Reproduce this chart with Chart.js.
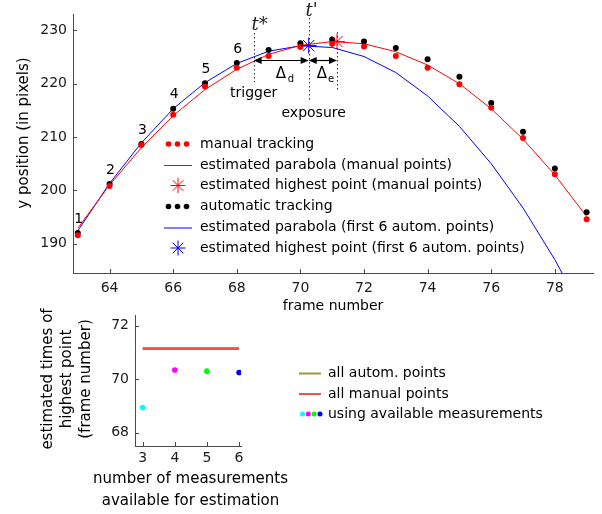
<!DOCTYPE html>
<html>
<head>
<meta charset="utf-8">
<script src="https://cdn.jsdelivr.net/npm/chart.js@4.4.1/dist/chart.umd.min.js"></script>
<style>
  body { margin: 0; background: #fff; }
  #wrap { position: relative; width: 602px; height: 514px; }
  canvas { position: absolute; left: 0; }
</style>
</head>
<body>
<div id="wrap">
  <canvas id="top" width="602" height="320" style="top:0"></canvas>
  <canvas id="bottom" width="602" height="214" style="top:300px"></canvas>
</div>
<script>
// ---- data ----
const frames     = [63, 64, 65, 66, 67, 68, 69, 70, 71, 72, 73, 74, 75, 76, 77, 78, 79];
const manualY    = [191.6, 200.8, 208.5, 214.2, 219.5, 223.0, 225.2, 226.9, 227.5, 227.0, 225.2, 223.0, 219.9, 215.5, 209.8, 203.0, 194.6];
const autoY      = [192.0, 201.2, 208.7, 215.3, 220.1, 223.9, 226.3, 227.6, 228.3, 227.9, 226.7, 224.6, 221.3, 216.4, 211.0, 204.1, 195.9];
const manualFit  = [192.9, 201.0, 208.0, 214.0, 218.9, 222.7, 225.5, 227.2, 227.9, 227.5, 226.0, 223.5, 220.0, 215.3, 209.6, 202.9, 195.1];
const autoFit    = [192.4, 201.3, 208.9, 215.3, 220.2, 223.8, 226.1, 227.1, 226.8, 225.1, 222.1, 217.7, 212.0, 205.0, 196.7, 187.0, 176.0];
const manualPeak = [71.15, 227.9];
const autoPeak   = [70.26, 227.15];
const triggerAt  = 68.53;
const xTicksTop  = [64, 66, 68, 70, 72, 74, 76, 78];
const yTicksTop  = [190, 200, 210, 220, 230];

const nMeas      = [3, 4, 5, 6];
const estTimes   = [68.94, 70.34, 70.30, 70.25];
const estColors  = ['#00ffff', '#ff00ff', '#00ff00', '#0000ff'];
const allAutoT   = 71.17;
const allManualT = 71.13;
const xTicksBot  = [3, 4, 5, 6];
const yTicksBot  = [68, 70, 72];

const topLegend = [
  'manual tracking',
  'estimated parabola (manual points)',
  'estimated highest point (manual points)',
  'automatic tracking',
  'estimated parabola (first 6 autom. points)',
  'estimated highest point (first 6 autom. points)'
];
const botLegend = ['all autom. points', 'all manual points', 'using available measurements'];

const FONT = '"DejaVu Sans", sans-serif';
const RED = '#ff0000', BLUE = '#0000ff', BLACK = '#000000';
const AXIS = '#4a4a4a';
const OLIVE = '#9a9a3a', LIGHTRED = '#f05050';

const pts = (xs, ys) => xs.map((x, i) => ({x: x, y: ys[i]}));

function axisStyle(ticks, pad) {
  return {
    border: {color: AXIS, width: 1},
    grid: {drawOnChartArea: false, drawTicks: false},
    ticks: {font: {family: FONT, size: 14}, color: '#1a1a1a', padding: pad, autoSkip: false, maxRotation: 0},
    afterBuildTicks: s => { s.ticks = ticks.map(v => ({value: v})); }
  };
}

// tick marks pointing into the plot area
const inwardTicks = {
  id: 'inwardTicks',
  afterDraw(chart) {
    const ctx = chart.ctx, a = chart.chartArea, xs = chart.scales.x, ys = chart.scales.y;
    ctx.save();
    ctx.strokeStyle = AXIS; ctx.lineWidth = 1;
    ctx.beginPath();
    xs.ticks.forEach(t => {
      const p = Math.round(xs.getPixelForValue(t.value)) + 0.5;
      ctx.moveTo(p, a.bottom); ctx.lineTo(p, a.bottom - 4);
    });
    ys.ticks.forEach(t => {
      const p = Math.round(ys.getPixelForValue(t.value)) + 0.5;
      ctx.moveTo(a.left, p); ctx.lineTo(a.left + 4, p);
    });
    ctx.stroke();
    ctx.restore();
  }
};

function dots(ctx, xs, y, colors, r) {
  xs.forEach((x, i) => {
    ctx.fillStyle = colors[i];
    ctx.beginPath(); ctx.arc(x, y, r, 0, Math.PI * 2); ctx.fill();
  });
}

function star(ctx, x, y, r, color) {
  ctx.strokeStyle = color; ctx.lineWidth = 1;
  ctx.beginPath();
  for (let k = 0; k < 4; k++) {
    const a = k * Math.PI / 4;
    ctx.moveTo(x - r * Math.cos(a), y - r * Math.sin(a));
    ctx.lineTo(x + r * Math.cos(a), y + r * Math.sin(a));
  }
  ctx.stroke();
}

function hline(ctx, x1, x2, y, color, w) {
  ctx.strokeStyle = color; ctx.lineWidth = w;
  ctx.beginPath(); ctx.moveTo(x1, y); ctx.lineTo(x2, y); ctx.stroke();
}

function arrow(ctx, x1, x2, y) {
  ctx.fillStyle = BLACK;
  hline(ctx, x1 + 4, x2 - 4, y, BLACK, 1.2);
  [[x1, 1], [x2, -1]].forEach(([x, d]) => {
    ctx.beginPath();
    ctx.moveTo(x, y); ctx.lineTo(x + d * 8, y - 3.5); ctx.lineTo(x + d * 8, y + 3.5);
    ctx.closePath(); ctx.fill();
  });
}

function dotted(ctx, x, y1, y2) {
  ctx.save();
  ctx.strokeStyle = '#333'; ctx.lineWidth = 1; ctx.setLineDash([1.5, 2.5]);
  ctx.beginPath(); ctx.moveTo(x + 0.5, y1); ctx.lineTo(x + 0.5, y2); ctx.stroke();
  ctx.restore();
}

const topAnnot = {
  id: 'topAnnot',
  afterDraw(chart) {
    const ctx = chart.ctx, xs = chart.scales.x, ys = chart.scales.y;
    ctx.save();
    ctx.textAlign = 'center'; ctx.textBaseline = 'middle';
    ctx.fillStyle = BLACK;
    ctx.font = '14px ' + FONT;
    // numbers above first 6 automatic points
    for (let i = 0; i < 6; i++) {
      ctx.fillText(String(i + 1), xs.getPixelForValue(frames[i]) + 1, ys.getPixelForValue(autoY[i]) - 14);
    }
    const xT = xs.getPixelForValue(triggerAt);
    const xE = xs.getPixelForValue(autoPeak[0]);
    const xM = xs.getPixelForValue(manualPeak[0]);
    dotted(ctx, Math.round(xT), 33, 82);
    dotted(ctx, Math.round(xE), 18, 101);
    dotted(ctx, Math.round(xM), 32, 90);
    arrow(ctx, xT, xE, 60.5);
    arrow(ctx, xE, xM, 60.5);
    ctx.fillStyle = BLACK;
    ctx.fillText('trigger', xT, 93);
    ctx.fillText('exposure', xE + 5, 113);
    ctx.font = 'italic 18px "DejaVu Serif", serif';
    ctx.fillStyle = '#222';
    ctx.fillText('t*', xT + 6, 25);
    ctx.fillText("t'", xE + 3, 11);
    ctx.fillStyle = BLACK;
    ctx.font = '15px ' + FONT;
    ctx.fillText('\u0394', 281, 74);
    ctx.fillText('\u0394', 322, 74);
    ctx.font = '10px ' + FONT;
    ctx.fillText('d', 291, 79);
    ctx.fillText('e', 331, 79);
    // axis titles
    ctx.font = '14px ' + FONT;
    ctx.fillText('frame number', (chart.chartArea.left + chart.chartArea.right) / 2, 306.5);
    ctx.save();
    ctx.translate(24, 133); ctx.rotate(-Math.PI / 2);
    ctx.font = '15px ' + FONT;
    ctx.fillText('y position (in pixels)', 0, 0);
    ctx.restore();
    // legend
    const rows = [144, 165, 185.5, 206.5, 227.5, 248];
    ctx.textAlign = 'left';
    ctx.font = '14px ' + FONT;
    ctx.fillStyle = BLACK;
    topLegend.forEach((t, i) => ctx.fillText(t, 200, rows[i]));
    dots(ctx, [168.5, 177.5, 186.5], rows[0], [RED, RED, RED], 2.8);
    hline(ctx, 164, 192, rows[1] + 0.5, RED, 1);
    star(ctx, 178, rows[2], 7.5, RED);
    dots(ctx, [168.5, 177.5, 186.5], rows[3], [BLACK, BLACK, BLACK], 2.8);
    hline(ctx, 164, 192, rows[4] + 0.5, BLUE, 1);
    star(ctx, 178, rows[5], 7.5, BLUE);
    ctx.restore();
  }
};

new Chart(document.getElementById('top'), {
  type: 'scatter',
  data: {
    datasets: [
      {label: topLegend[0], data: pts(frames, manualY), backgroundColor: RED, borderWidth: 0, pointRadius: 3, order: 1},
      {label: topLegend[1], data: pts(frames, manualFit), showLine: true, borderColor: RED, borderWidth: 1, pointRadius: 0, order: 2},
      {label: topLegend[2], data: [{x: manualPeak[0], y: manualPeak[1]}], pointStyle: 'star', pointRadius: 8, borderColor: RED, borderWidth: 1, order: 0},
      {label: topLegend[3], data: pts(frames, autoY), backgroundColor: BLACK, borderWidth: 0, pointRadius: 3, order: 1},
      {label: topLegend[4], data: pts(frames, autoFit), showLine: true, borderColor: BLUE, borderWidth: 1, pointRadius: 0, order: 2},
      {label: topLegend[5], data: [{x: autoPeak[0], y: autoPeak[1]}], pointStyle: 'star', pointRadius: 8, borderColor: BLUE, borderWidth: 1, order: 0}
    ]
  },
  options: {
    responsive: false, animation: false, devicePixelRatio: 1,
    layout: {padding: {top: 7, right: 7, left: 0, bottom: 0}},
    plugins: {legend: {display: false}, tooltip: {enabled: false}},
    scales: {
      x: Object.assign(axisStyle(xTicksTop, 7), {type: 'linear', min: 62.85, max: 79.2,
        afterFit: s => { s.height = 47; }}),
      y: Object.assign(axisStyle(yTicksTop, 6), {type: 'linear', min: 184.5, max: 233,
        afterFit: s => { s.width = 73; }})
    }
  },
  plugins: [inwardTicks, topAnnot]
});

const botAnnot = {
  id: 'botAnnot',
  afterDraw(chart) {
    const ctx = chart.ctx;
    ctx.save();
    ctx.fillStyle = BLACK; ctx.textAlign = 'center'; ctx.textBaseline = 'middle';
    ctx.font = '15px ' + FONT;
    ctx.fillText('number of measurements', 190.5, 179);
    ctx.fillText('available for estimation', 190.5, 201);
    ['estimated times of', 'highest point', '(frame number)'].forEach((t, i) => {
      ctx.save();
      ctx.translate(48.5 + i * 19, 79); ctx.rotate(-Math.PI / 2);
      ctx.fillText(t, 0, 0);
      ctx.restore();
    });
    const rows = [73.5, 94, 114];
    ctx.textAlign = 'left'; ctx.font = '14px ' + FONT;
    botLegend.forEach((t, i) => ctx.fillText(t, 328, rows[i]));
    hline(ctx, 299, 321, rows[0], OLIVE, 2);
    hline(ctx, 299, 321, rows[1], LIGHTRED, 2);
    dots(ctx, [302.5, 308.3, 314.1, 320], rows[2], estColors, 2.5);
    ctx.restore();
  }
};

new Chart(document.getElementById('bottom'), {
  type: 'scatter',
  data: {
    datasets: [
      {label: botLegend[0], data: [{x: nMeas[0], y: allAutoT}, {x: nMeas[nMeas.length - 1], y: allAutoT}],
        showLine: true, borderColor: OLIVE, borderWidth: 2, pointRadius: 0, order: 2},
      {label: botLegend[1], data: [{x: nMeas[0], y: allManualT}, {x: nMeas[nMeas.length - 1], y: allManualT}],
        showLine: true, borderColor: LIGHTRED, borderWidth: 2, pointRadius: 0, order: 1},
      {label: botLegend[2], data: pts(nMeas, estTimes), backgroundColor: estColors, borderWidth: 0,
        pointRadius: 2.8, order: 0}
    ]
  },
  options: {
    responsive: false, animation: false, devicePixelRatio: 1,
    layout: {padding: {top: 15, right: 361, left: 0, bottom: 0}},
    plugins: {legend: {display: false}, tooltip: {enabled: false}},
    scales: {
      x: Object.assign(axisStyle(xTicksBot, 4), {type: 'linear', min: 2.76, max: 6.06,
        afterFit: s => { s.height = 68; }}),
      y: Object.assign(axisStyle(yTicksBot, 6), {type: 'linear', min: 67.5, max: 72.4,
        afterFit: s => { s.width = 135; }})
    }
  },
  plugins: [inwardTicks, botAnnot]
});
</script>
</body>
</html>
